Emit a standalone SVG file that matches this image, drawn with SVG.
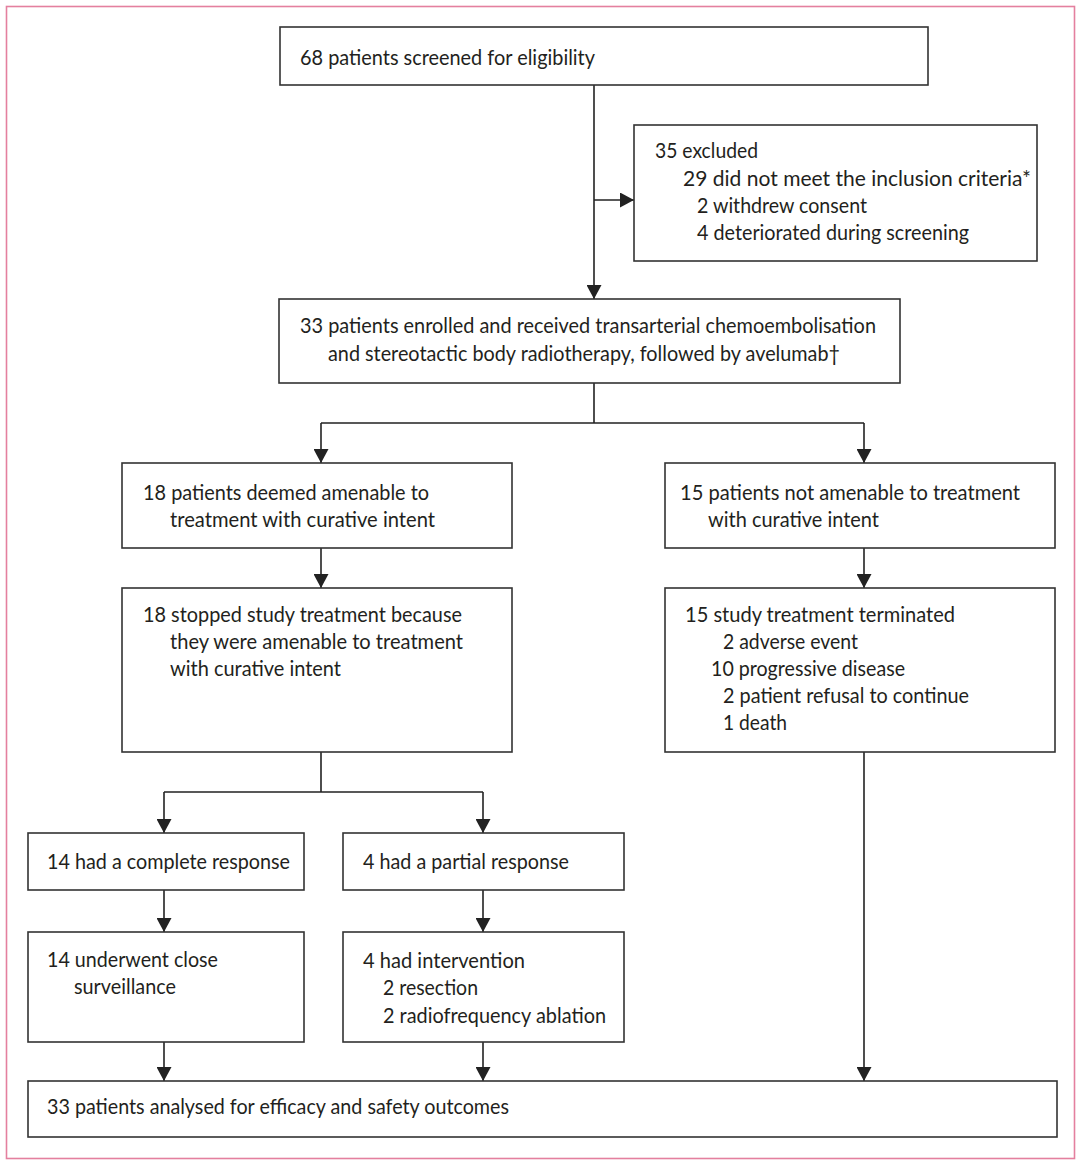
<svg xmlns="http://www.w3.org/2000/svg" width="1080" height="1167" viewBox="0 0 1080 1167">
<style>
.box{fill:#fff;stroke:#333;stroke-width:1.6}
.c{fill:none;stroke:#222;stroke-width:1.6}
text{font-family:Lato,"Liberation Sans",sans-serif;font-size:21px;fill:#231f20}
</style>
<defs>
<marker id="ah" markerUnits="userSpaceOnUse" markerWidth="15" markerHeight="15" refX="14" refY="7.5" orient="auto">
<path d="M0,0 L14,7.5 L0,15 z" fill="#222"/>
</marker>
</defs>
<rect x="6.5" y="6.5" width="1068" height="1152" fill="#fff" stroke="#e4809f" stroke-width="1.6"/>
<g id="connectors">
<path class="c" d="M594,85 V299" marker-end="url(#ah)"/>
<path class="c" d="M594,200 H634" marker-end="url(#ah)"/>
<path class="c" d="M594,383 V423 M321,423 H864"/>
<path class="c" d="M321,423 V463" marker-end="url(#ah)"/>
<path class="c" d="M864,423 V463" marker-end="url(#ah)"/>
<path class="c" d="M321,548 V588" marker-end="url(#ah)"/>
<path class="c" d="M864,548 V588" marker-end="url(#ah)"/>
<path class="c" d="M321,752 V792 M164,792 H483"/>
<path class="c" d="M164,792 V833" marker-end="url(#ah)"/>
<path class="c" d="M483,792 V833" marker-end="url(#ah)"/>
<path class="c" d="M164,890 V932" marker-end="url(#ah)"/>
<path class="c" d="M483,890 V932" marker-end="url(#ah)"/>
<path class="c" d="M164,1042 V1081" marker-end="url(#ah)"/>
<path class="c" d="M483,1042 V1081" marker-end="url(#ah)"/>
<path class="c" d="M864,752 V1081" marker-end="url(#ah)"/>
</g>
<g id="screened">
<rect class="box" x="280" y="27" width="648" height="58"/>
<text x="300" y="65" textLength="295" lengthAdjust="spacingAndGlyphs">68 patients screened for eligibility</text>
</g>
<g id="excluded">
<rect class="box" x="634" y="125" width="403" height="136"/>
<text x="655" y="158" textLength="103" lengthAdjust="spacingAndGlyphs">35 excluded</text>
<text x="683" y="186" textLength="348" lengthAdjust="spacingAndGlyphs">29 did not meet the inclusion criteria*</text>
<text x="697" y="213" textLength="170" lengthAdjust="spacingAndGlyphs">2 withdrew consent</text>
<text x="697" y="240" textLength="272" lengthAdjust="spacingAndGlyphs">4 deteriorated during screening</text>
</g>
<g id="enrolled">
<rect class="box" x="279" y="299" width="621" height="84"/>
<text x="300" y="333" textLength="576" lengthAdjust="spacingAndGlyphs">33 patients enrolled and received transarterial chemoembolisation</text>
<text x="328" y="361" textLength="512" lengthAdjust="spacingAndGlyphs">and stereotactic body radiotherapy, followed by avelumab†</text>
</g>
<g id="amenable">
<rect class="box" x="122" y="463" width="390" height="85"/>
<text x="143" y="500" textLength="286" lengthAdjust="spacingAndGlyphs">18 patients deemed amenable to</text>
<text x="170" y="527" textLength="265" lengthAdjust="spacingAndGlyphs">treatment with curative intent</text>
</g>
<g id="not-amenable">
<rect class="box" x="665" y="463" width="390" height="85"/>
<text x="680" y="500" textLength="340" lengthAdjust="spacingAndGlyphs">15 patients not amenable to treatment</text>
<text x="708" y="527" textLength="171" lengthAdjust="spacingAndGlyphs">with curative intent</text>
</g>
<g id="stopped">
<rect class="box" x="122" y="588" width="390" height="164"/>
<text x="143" y="622" textLength="319" lengthAdjust="spacingAndGlyphs">18 stopped study treatment because</text>
<text x="170" y="649" textLength="293" lengthAdjust="spacingAndGlyphs">they were amenable to treatment</text>
<text x="170" y="676" textLength="171" lengthAdjust="spacingAndGlyphs">with curative intent</text>
</g>
<g id="terminated">
<rect class="box" x="665" y="588" width="390" height="164"/>
<text x="685" y="622" textLength="270" lengthAdjust="spacingAndGlyphs">15 study treatment terminated</text>
<text x="723" y="649" textLength="135" lengthAdjust="spacingAndGlyphs">2 adverse event</text>
<text x="711" y="676" textLength="194" lengthAdjust="spacingAndGlyphs">10 progressive disease</text>
<text x="723" y="703" textLength="246" lengthAdjust="spacingAndGlyphs">2 patient refusal to continue</text>
<text x="723" y="730" textLength="64" lengthAdjust="spacingAndGlyphs">1 death</text>
</g>
<g id="complete">
<rect class="box" x="28" y="833" width="276" height="57"/>
<text x="47" y="869" textLength="243" lengthAdjust="spacingAndGlyphs">14 had a complete response</text>
</g>
<g id="partial">
<rect class="box" x="343" y="833" width="281" height="57"/>
<text x="363" y="869" textLength="206" lengthAdjust="spacingAndGlyphs">4 had a partial response</text>
</g>
<g id="surveillance">
<rect class="box" x="28" y="932" width="276" height="110"/>
<text x="47" y="967" textLength="171" lengthAdjust="spacingAndGlyphs">14 underwent close</text>
<text x="74" y="994" textLength="102" lengthAdjust="spacingAndGlyphs">surveillance</text>
</g>
<g id="intervention">
<rect class="box" x="343" y="932" width="281" height="110"/>
<text x="363" y="968" textLength="162" lengthAdjust="spacingAndGlyphs">4 had intervention</text>
<text x="383" y="995" textLength="95" lengthAdjust="spacingAndGlyphs">2 resection</text>
<text x="383" y="1023" textLength="223" lengthAdjust="spacingAndGlyphs">2 radiofrequency ablation</text>
</g>
<g id="analysed">
<rect class="box" x="28" y="1081" width="1029" height="56"/>
<text x="47" y="1114" textLength="462" lengthAdjust="spacingAndGlyphs">33 patients analysed for efficacy and safety outcomes</text>
</g>
</svg>
